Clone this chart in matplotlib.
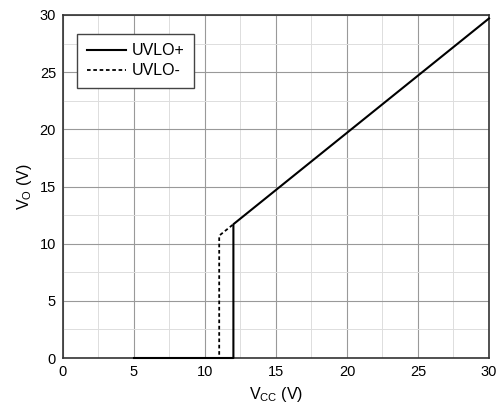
import numpy as np
import matplotlib.pyplot as plt

plt.rcParams['font.family'] = ['Liberation Sans', 'DejaVu Sans']

# UVLO+ (rising) and UVLO- (falling) curves
vcc_up = [5, 12, 12, 30]
vo_up = [0, 0, 11.7, 29.7]
vcc_dn = [5, 11, 11, 12]
vo_dn = [0, 0, 10.7, 11.7]

fig = plt.figure(figsize=(5.02, 4.17), dpi=100)
ax = fig.add_axes([63/502, 1-358/417, (489-63)/502, (358-15)/417])

ax.plot(vcc_dn, vo_dn, color='black', lw=1.3, ls=(0, (2, 1.5)), label='UVLO-')
ax.plot(vcc_up, vo_up, color='black', lw=1.5, label='UVLO+', clip_on=False, zorder=5)

ax.set_xlim(0, 30)
ax.set_ylim(0, 30)
ax.set_xticks(np.arange(0, 31, 5))
ax.set_yticks(np.arange(0, 31, 5))
ax.set_xticks(np.arange(0, 31, 2.5), minor=True)
ax.set_yticks(np.arange(0, 31, 2.5), minor=True)
ax.grid(which='major', color='#999999', lw=0.8)
ax.grid(which='minor', color='#dddddd', lw=0.7)
ax.tick_params(which='both', length=0, labelsize=10.5, pad=5)
ax.set_axisbelow(True)
for s in ax.spines.values():
    s.set_color('#333333')
    s.set_linewidth(1.2)

ax.set_xlabel('V$_{\\mathregular{CC}}$ (V)', fontsize=11.5)
ax.set_ylabel('V$_{\\mathregular{O}}$ (V)', fontsize=11.5)

h, l = ax.get_legend_handles_labels()
leg = ax.legend(h[::-1], l[::-1], loc='upper left', bbox_to_anchor=(0.033, 0.945),
                borderaxespad=0, fancybox=False, edgecolor='#444444', framealpha=1,
                fontsize=11.5, handlelength=2.45, handletextpad=0.35,
                borderpad=0.6, labelspacing=0.3)
leg.get_frame().set_linewidth(1.0)

plt.savefig('out.png', dpi=100)
